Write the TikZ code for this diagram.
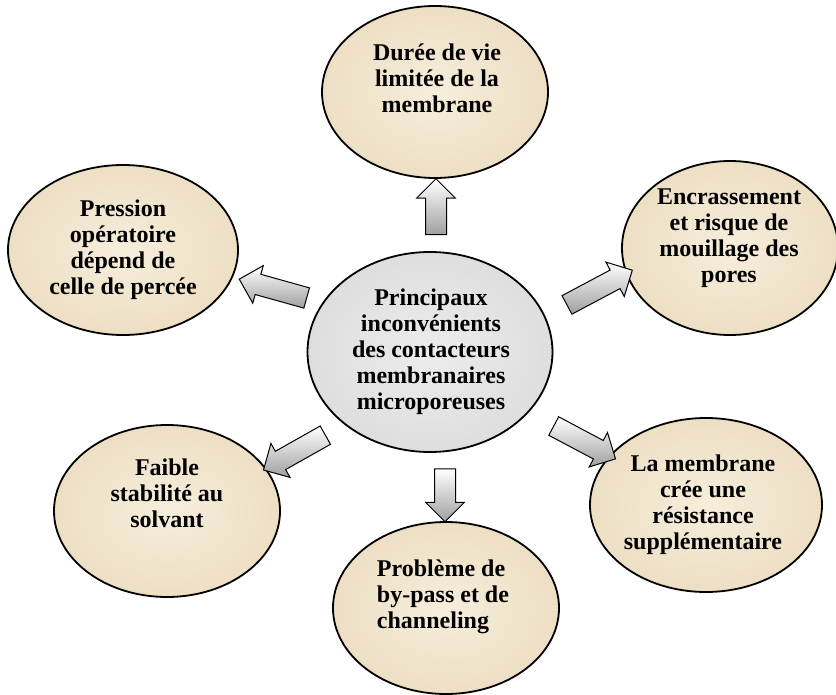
\documentclass[tikz,border=0pt]{standalone}
\usepackage{fontspec}
\setmainfont{Liberation Serif}
\usetikzlibrary{shapes.geometric,shapes.arrows}
\definecolor{beigeA}{RGB}{246,237,219}
\definecolor{beigeB}{RGB}{237,223,196}
\definecolor{greyA}{RGB}{236,236,236}
\definecolor{greyB}{RGB}{222,222,222}
\tikzset{
  bubble/.style={ellipse, draw=black, line width=1.8pt, inner sep=0pt,
    inner color=beigeA, outer color=beigeB},
  hub/.style={ellipse, draw=black, line width=1.8pt, inner sep=0pt,
    inner color=greyA, outer color=greyB},
  lbl/.style={font=\fontsize{24}{26}\selectfont\bfseries, align=center, inner sep=0pt},
  blk/.style={single arrow, draw=black, line width=1pt, inner xsep=0pt, inner ysep=10pt,
    minimum width=38pt, single arrow head extend=9pt,
    single arrow head indent=0pt,
    top color=white, bottom color=gray!75}
}
\begin{document}
\begin{tikzpicture}[x=1pt,y=-1pt]
\useasboundingbox (0,0) rectangle (836,695);
% ellipses
\node[hub, minimum width=245pt, minimum height=200pt] (c) at (430,352) {};
\node[bubble, minimum width=226pt, minimum height=172pt] (n) at (435,92) {};
\node[bubble, minimum width=230pt, minimum height=170pt] (nw) at (123,250) {};
\node[bubble, minimum width=216pt, minimum height=174pt] (ne) at (730,248) {};
\node[bubble, minimum width=226pt, minimum height=172pt] (sw) at (167,511) {};
\node[bubble, minimum width=232pt, minimum height=174pt] (se) at (706,505) {};
\node[bubble, minimum width=226pt, minimum height=172pt] (s) at (446,608) {};
% texts
\node[lbl] (tc) at (431,352) {Principaux\\inconvénients\\des contacteurs\\membranaires\\microporeuses};
\node[lbl] (tn) at (437,78) {Durée de vie\\limitée de la\\membrane};
\node[lbl] (tnw) at (123,250) {Pression\\opératoire\\dépend de\\celle de percée};
\node[lbl] (tne) at (729,238) {Encrassement\\et risque de\\mouillage des\\pores};
\node[lbl] (tsw) at (167,493) {Faible\\stabilité au\\solvant};
\node[lbl] (tse) at (703,505) {La membrane\\crée une\\résistance\\supplémentaire};
\node[lbl, align=left] (ts) at (443,597) {Problème de\\by-pass et de\\channeling};
% block arrows
\node[blk, minimum height=56pt, rotate=90] (a1) at (436,212) {};
\node[blk, minimum height=70pt, rotate=164.4] (a2) at (278,290) {};
\node[blk, minimum height=74pt, rotate=28] (a3) at (595,290) {};
\node[blk, minimum height=71pt, rotate=209.4] (a4) at (299,450) {};
\node[blk, minimum height=70pt, rotate=-28] (a5) at (580,440) {};
\node[blk, minimum height=53pt, rotate=-90] (a6) at (445,490) {};
\end{tikzpicture}
\end{document}
